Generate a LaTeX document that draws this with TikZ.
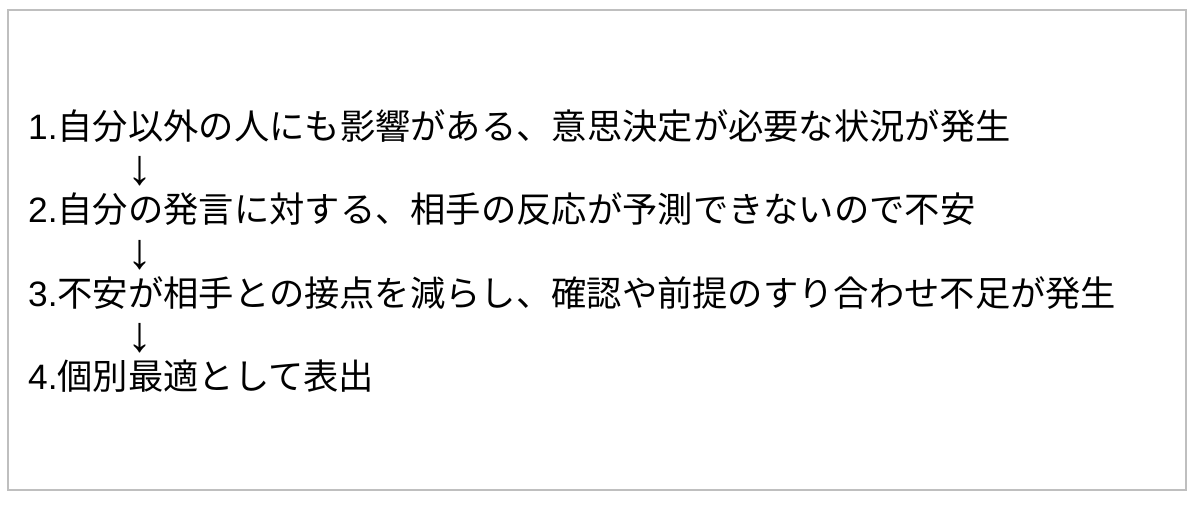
\documentclass[tikz,border=0pt]{standalone}
\usepackage{fontspec}
\setmainfont{Noto Sans CJK JP}
\newfontfamily\latinfont{Liberation Sans}
\newfontfamily\jpfont{Noto Sans CJK JP}
\begin{document}
\begin{tikzpicture}[x=1pt,y=-1pt,
  linetext/.style={anchor=base west,inner sep=0pt,font=\fontsize{35.3}{42}\selectfont\jpfont},
  downarrow/.style={anchor=center,inner sep=0pt,font=\fontsize{50}{60}\selectfont\latinfont},
  frame/.style={draw=black!25,line width=2pt}]
\useasboundingbox (0,0) rectangle (1200,504);
\fill[white] (0,0) rectangle (1200,504);
\draw[frame] (8,10) rectangle (1186,490);
\node[linetext] (l1) at (28,139) {{\latinfont 1.}自分以外の人にも影響がある、意思決定が必要な状況が発生};
\node[downarrow] (a1) at (140,171) {↓};
\node[linetext] (l2) at (28,222) {{\latinfont 2.}自分の発言に対する、相手の反応が予測できないので不安};
\node[downarrow] (a2) at (140,255) {↓};
\node[linetext] (l3) at (28,306) {{\latinfont 3.}不安が相手との接点を減らし、確認や前提のすり合わせ不足が発生};
\node[downarrow] (a3) at (140,338) {↓};
\node[linetext] (l4) at (28,389) {{\latinfont 4.}個別最適として表出};
\end{tikzpicture}
\end{document}
